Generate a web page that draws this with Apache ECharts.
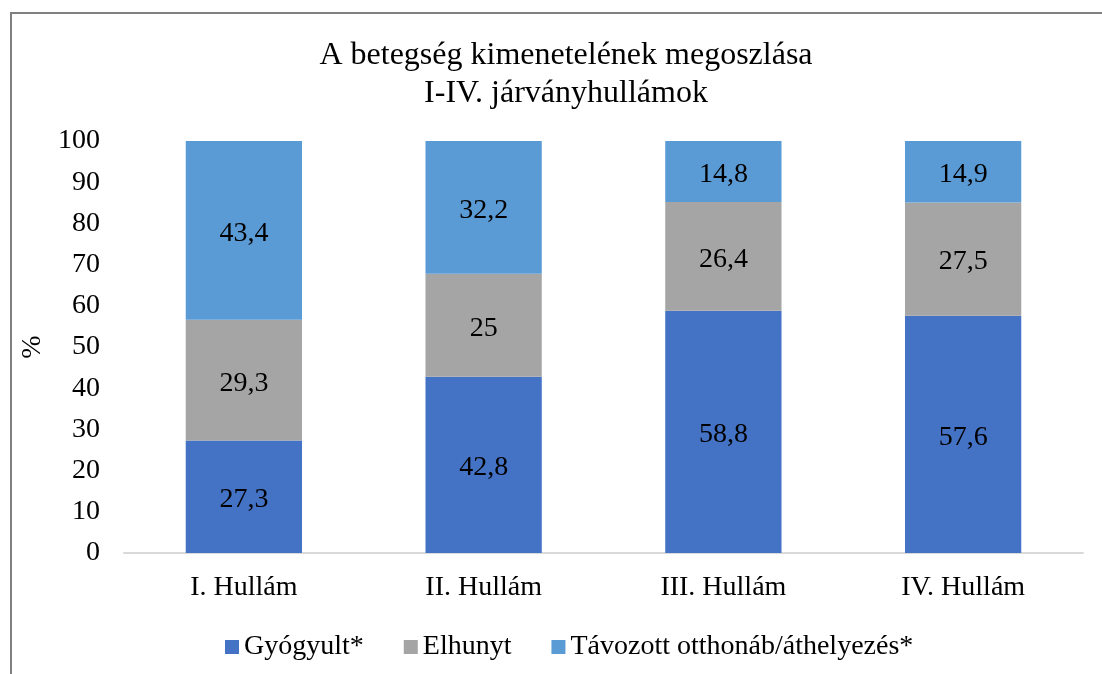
<!DOCTYPE html>
<html>
<head>
<meta charset="utf-8">
<script src="https://cdn.jsdelivr.net/npm/echarts@6/dist/echarts.min.js"></script>
<style>
html,body{margin:0;padding:0;background:#fff;}
#c{width:1102px;height:674px;}
</style>
</head>
<body>
<div id="c"></div>
<script>
const categories = ['I. Hullám', 'II. Hullám', 'III. Hullám', 'IV. Hullám'];
const gyogyult = [27.3, 42.8, 58.8, 57.6];
const elhunyt = [29.3, 25, 26.4, 27.5];
const tavozott = [43.4, 32.2, 14.8, 14.9];
const seriesNames = ['Gyógyult*', 'Elhunyt', 'Távozott otthonáb/áthelyezés*'];
const yTicks = [0, 10, 20, 30, 40, 50, 60, 70, 80, 90, 100];

const FONT = 'Liberation Serif, Times New Roman, serif';
const colors = ['#4472C4', '#A5A5A5', '#5B9BD5'];

const chart = echarts.init(document.getElementById('c'));
function mk(name, data, color) {
  return {
    name: name, type: 'bar', stack: 'total', data: data, barWidth: '48.5%',
    itemStyle: { color: color },
    label: {
      show: true, position: 'inside', color: '#000', offset: [0, 3],
      fontFamily: FONT, fontSize: 28,
      formatter: p => String(p.value).replace('.', ',')
    }
  };
}
chart.setOption({
  animation: false,
  color: colors,
  title: {
    text: 'A betegség kimenetelének megoszlása\nI-IV. járványhullámok',
    left: 561, textAlign: 'center', top: 32,
    textStyle: { fontFamily: FONT, fontSize: 32, fontWeight: 'normal', color: '#000', lineHeight: 38 }
  },
  legend: {
    left: 220, top: 628,
    itemWidth: 14, itemHeight: 14, itemGap: 40,
    icon: 'rect',
    textStyle: { fontFamily: FONT, fontSize: 28, color: '#000' },
    data: seriesNames
  },
  grid: { left: 124, right: 19, top: 141, bottom: 121 },
  xAxis: {
    type: 'category', data: categories,
    axisLine: { lineStyle: { color: '#D9D9D9', width: 2 } },
    axisTick: { show: false },
    axisLabel: { fontFamily: FONT, fontSize: 28, color: '#000', margin: 21 }
  },
  yAxis: {
    type: 'value', min: 0, max: 100, interval: 10,
    name: '%', nameLocation: 'middle', nameGap: 74, nameRotate: 90,
    nameTextStyle: { fontFamily: FONT, fontSize: 28, color: '#000' },
    splitLine: { show: false },
    axisLine: { show: false }, axisTick: { show: false },
    axisLabel: { fontFamily: FONT, fontSize: 28, color: '#000', margin: 24,
      formatter: v => yTicks.includes(v) ? String(v) : '' }
  },
  graphic: [{
    type: 'polyline',
    shape: { points: [[11, 674], [11, 13], [1102, 13]] },
    style: { stroke: '#808080', lineWidth: 2, fill: null }
  }],
  series: [
    mk(seriesNames[0], gyogyult, colors[0]),
    mk(seriesNames[1], elhunyt, colors[1]),
    mk(seriesNames[2], tavozott, colors[2])
  ]
});
</script>
</body>
</html>
